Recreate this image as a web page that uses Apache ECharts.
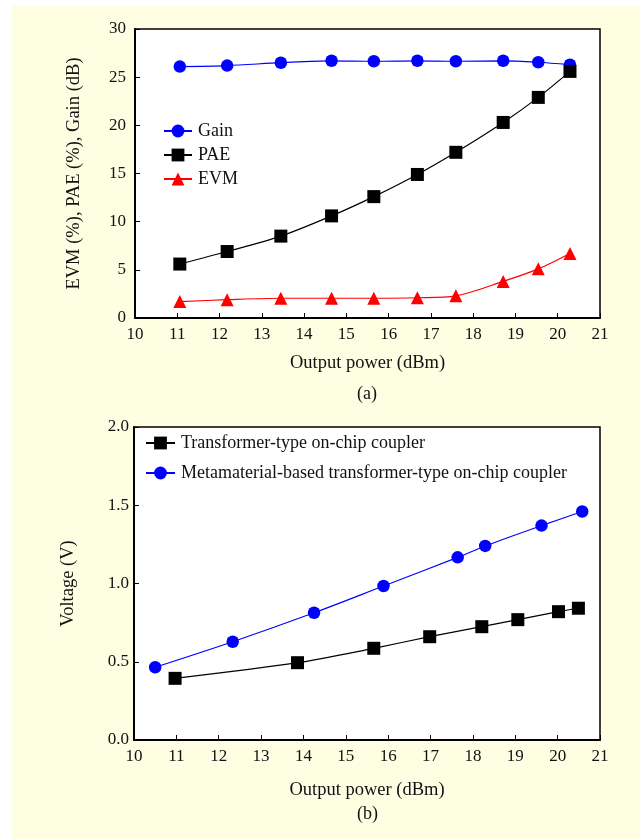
<!DOCTYPE html>
<html>
<head>
<meta charset="utf-8">
<script src="https://cdn.jsdelivr.net/npm/echarts@6/dist/echarts.min.js"></script>
<style>
html,body{margin:0;padding:0;background:#ffffff;}
#c{width:640px;height:839px;}
</style>
</head>
<body>
<div id="c"></div>
<script>
// ---- data (a) ----
var powerA = [11.06, 12.18, 13.45, 14.65, 15.65, 16.68, 17.59, 18.71, 19.54, 20.29];
var gain   = [26.1, 26.2, 26.5, 26.7, 26.65, 26.7, 26.65, 26.7, 26.55, 26.3];
var pae    = [5.6, 6.9, 8.5, 10.6, 12.6, 14.9, 17.2, 20.3, 22.9, 25.6];
var evm    = [1.7, 1.9, 2.05, 2.05, 2.05, 2.1, 2.3, 3.8, 5.1, 6.7];
// ---- data (b) ----
var transX = [10.97, 13.86, 15.66, 16.98, 18.21, 19.06, 20.02, 20.49];
var transY = [0.394, 0.494, 0.586, 0.66, 0.724, 0.769, 0.82, 0.842];
var metaX  = [10.5, 12.33, 14.25, 15.89, 17.64, 18.29, 19.62, 20.58];
var metaY  = [0.465, 0.628, 0.813, 0.984, 1.167, 1.24, 1.37, 1.46];

var namesA = ['Gain', 'PAE', 'EVM'];
var namesB = ['Transformer-type on-chip coupler', 'Metamaterial-based transformer-type on-chip coupler'];

function zip(xs, ys){ return xs.map(function(x,i){ return [x, ys[i]]; }); }

var FONT = '"Liberation Serif","Times New Roman",serif';
var TXT = '#111';

function xAxisCfg(gridIndex, gap){
  return {
    type:'value', gridIndex:gridIndex, min:10, max:21, interval:1,
    name:'Output power (dBm)', nameLocation:'middle', nameGap:gap,
    nameTextStyle:{fontFamily:FONT, fontSize:18.5, color:TXT},
    axisLine:{show:true, lineStyle:{color:'#000', width:2}},
    axisTick:{show:true, inside:true, length:5, lineStyle:{color:'#000', width:1}},
    axisLabel:{fontFamily:FONT, fontSize:17, color:TXT, margin:8},
    splitLine:{show:false}
  };
}

var chart = echarts.init(document.getElementById('c'), null, {renderer:'canvas'});
var option = {
  animation:false,
  backgroundColor:'#ffffff',
  graphic:[
    {type:'rect', z:-10, silent:true, shape:{x:12, y:5, width:628, height:834}, style:{fill:'#fefee3'}},
    {type:'text', left:357, top:385, style:{text:'(a)', font:'18px ' + FONT, fill:TXT}},
    {type:'text', left:357, top:805, style:{text:'(b)', font:'18px ' + FONT, fill:TXT}}
  ],
  grid:[
    {left:135, top:29, width:465, height:289, show:true, backgroundColor:'#ffffff', borderColor:'#000', borderWidth:1.5},
    {left:134, top:427, width:466, height:313, show:true, backgroundColor:'#ffffff', borderColor:'#000', borderWidth:1.5}
  ],
  legend:[
    {data:namesA, orient:'vertical', left:158, top:117, itemWidth:28, itemHeight:16, itemGap:6,
     textStyle:{fontFamily:FONT, fontSize:18, lineHeight:18, color:TXT, padding:[0,0,0,1]}},
    {data:namesB, orient:'vertical', left:140, top:429, itemWidth:29, itemHeight:16, itemGap:12,
     textStyle:{fontFamily:FONT, fontSize:18, lineHeight:18, color:TXT, padding:[0,0,0,1]}}
  ],
  xAxis:[ xAxisCfg(0, 36), xAxisCfg(1, 41) ],
  yAxis:[
    {type:'value', gridIndex:0, min:0, max:30, interval:5,
     name:'EVM (%), PAE (%), Gain (dB)', nameLocation:'middle', nameGap:51, nameRotate:90,
     nameTextStyle:{fontFamily:FONT, fontSize:18.5, color:TXT},
     axisLine:{show:true, lineStyle:{color:'#000', width:2}},
     axisTick:{show:true, inside:true, length:5, lineStyle:{color:'#000', width:1}},
     axisLabel:{fontFamily:FONT, fontSize:17, color:TXT, margin:9},
     splitLine:{show:false}},
    {type:'value', gridIndex:1, min:0, max:2, interval:0.5,
     name:'Voltage (V)', nameLocation:'middle', nameGap:56, nameRotate:90,
     nameTextStyle:{fontFamily:FONT, fontSize:18.5, color:TXT},
     axisLine:{show:true, lineStyle:{color:'#000', width:2}},
     axisTick:{show:true, inside:true, length:5, lineStyle:{color:'#000', width:1}},
     axisLabel:{fontFamily:FONT, fontSize:17, color:TXT, margin:5, formatter:function(v){return v.toFixed(1);}},
     splitLine:{show:false}}
  ],
  series:[
    {name:'Gain', type:'line', xAxisIndex:0, yAxisIndex:0, data:zip(powerA, gain), smooth:0.3,
     symbol:'circle', symbolSize:12.5, itemStyle:{color:'#0000ff'}, lineStyle:{color:'#0000ff', width:1.2}},
    {name:'PAE', type:'line', xAxisIndex:0, yAxisIndex:0, data:zip(powerA, pae), smooth:0.3,
     symbol:'rect', symbolSize:13, itemStyle:{color:'#000000'}, lineStyle:{color:'#000000', width:1.2}},
    {name:'EVM', type:'line', xAxisIndex:0, yAxisIndex:0, data:zip(powerA, evm), smooth:0.3,
     symbol:'triangle', symbolSize:13, itemStyle:{color:'#ff0000'}, lineStyle:{color:'#ff0000', width:1.2}},
    {name:namesB[0], type:'line', xAxisIndex:1, yAxisIndex:1, data:zip(transX, transY), smooth:0.3,
     symbol:'rect', symbolSize:13, itemStyle:{color:'#000000'}, lineStyle:{color:'#000000', width:1.2}},
    {name:namesB[1], type:'line', xAxisIndex:1, yAxisIndex:1, data:zip(metaX, metaY), smooth:0.3,
     symbol:'circle', symbolSize:12.5, itemStyle:{color:'#0000ff'}, lineStyle:{color:'#0000ff', width:1.2}}
  ]
};
chart.setOption(option);
</script>
</body>
</html>
